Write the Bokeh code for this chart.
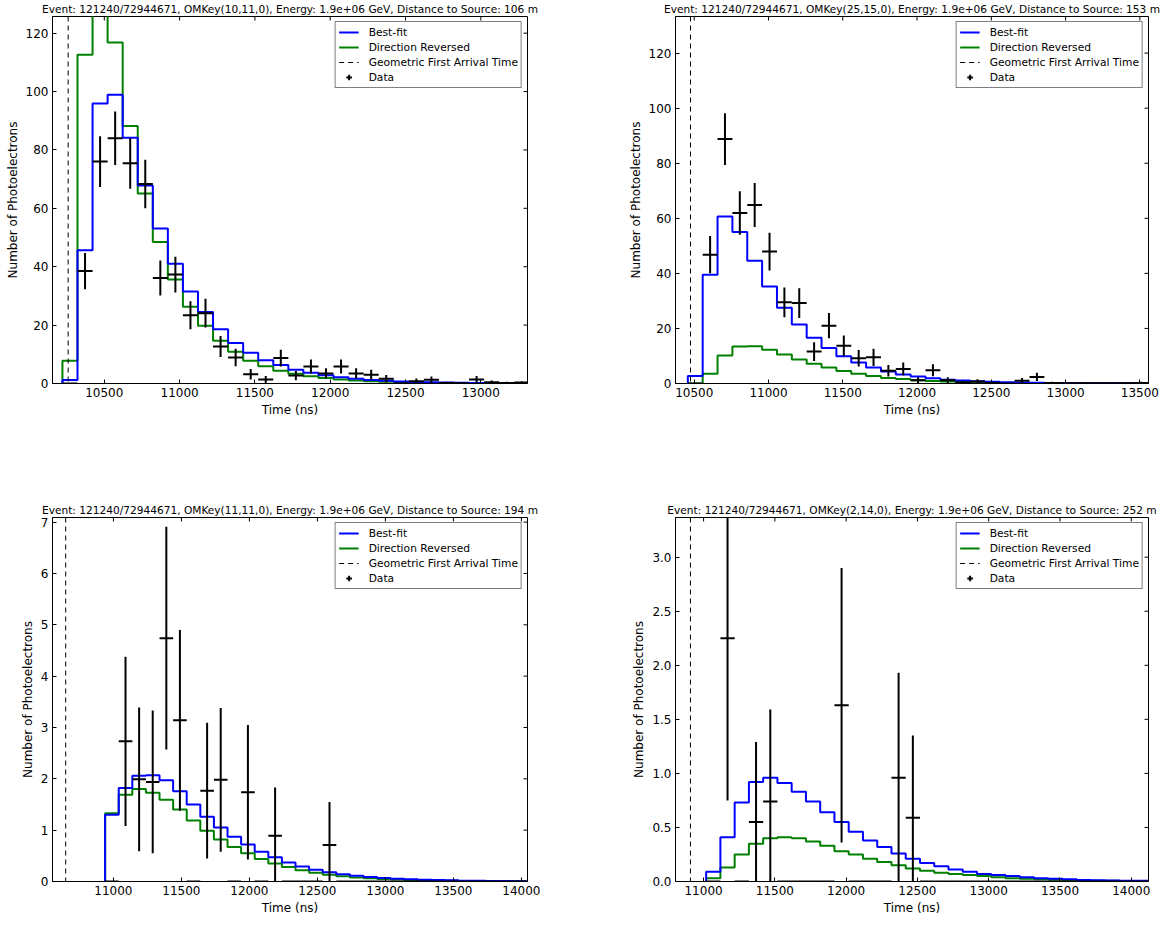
import numpy as np
from bokeh.plotting import figure
from bokeh.models import (Range1d, FixedTicker, Span, Legend, LegendItem,
                          PrintfTickFormatter)
from bokeh.layouts import column, row
from bokeh.embed import file_html
from bokeh.resources import INLINE

FONT = "DejaVu Sans"
BLUE = "#0000ff"
GREEN = "#008000"

# ---------------- data ----------------
titles = [
    "Event: 121240/72944671, OMKey(10,11,0), Energy: 1.9e+06 GeV, Distance to Source: 106 m",
    "Event: 121240/72944671, OMKey(25,15,0), Energy: 1.9e+06 GeV, Distance to Source: 153 m",
    "Event: 121240/72944671, OMKey(11,11,0), Energy: 1.9e+06 GeV, Distance to Source: 194 m",
    "Event: 121240/72944671, OMKey(2,14,0), Energy: 1.9e+06 GeV, Distance to Source: 252 m",
]
bin_width = 100.0
bin_start = [10222, 10457, 10939, 11018]
arrival_time = [10260, 10475, 10649, 10908]

best_fit_1 = [1.2, 45.6, 95.9, 98.9, 84.2, 67.8, 53.1, 41.0, 31.5, 24.5, 18.6, 13.9, 10.5, 8.0,
              6.3, 4.7, 3.7, 2.8, 2.1, 1.6, 1.2, 0.9, 0.7, 0.55, 0.42, 0.33, 0.26, 0.2, 0.15, 0.12, 0.09]
reversed_1 = [7.8, 112.6, 140.0, 116.8, 88.2, 65.1, 48.5, 35.6, 26.3, 19.8, 14.6, 10.9, 7.8, 5.9,
              4.4, 3.3, 2.5, 1.9, 1.4, 1.05, 0.8, 0.6, 0.45, 0.34, 0.26, 0.2, 0.15, 0.11, 0.08, 0.06, 0.05]
data_1 = [0, 38.5, 76.0, 84.0, 75.4, 68.3, 36.1, 37.3, 23.4, 24.1, 12.7, 8.9, 3.2, 1.4, 8.7, 2.7,
          5.8, 3.4, 5.8, 3.4, 3.0, 1.6, 0, 0.8, 1.3, 0.2, 0.1, 1.4, 0.4, 0.2, 0.3]
err_1 = [0, 6.2, 8.7, 9.2, 8.7, 8.3, 6.0, 6.1, 4.8, 4.9, 3.6, 3.0, 1.8, 1.2, 2.9, 1.6,
         2.4, 1.8, 2.4, 1.8, 1.7, 1.3, 0, 0.9, 1.1, 0.4, 0.3, 1.2, 0.6, 0.4, 0.5]

best_fit_2 = [2.7, 39.5, 60.7, 55.0, 44.6, 35.2, 27.5, 21.4, 16.6, 12.9, 9.9, 7.6, 5.8, 4.4, 3.3,
              2.5, 1.9, 1.4, 1.1, 0.8, 0.6, 0.45, 0.35, 0.27, 0.2, 0.15, 0.12, 0.09, 0.07, 0.05, 0.04]
reversed_2 = [0.0, 3.5, 10.2, 13.4, 13.5, 12.3, 10.5, 8.7, 7.2, 5.8, 4.5, 3.5, 2.7, 2.0, 1.6, 1.2,
              0.9, 0.7, 0.5, 0.4, 0.3, 0.22, 0.17, 0.13, 0.1, 0.07, 0.05, 0.04, 0.03, 0.02, 0.02]
data_2 = [0, 46.8, 88.8, 61.9, 64.8, 47.9, 29.5, 29.2, 11.6, 21.0, 13.7, 9.2, 9.5, 4.6, 5.3, 1.2,
          4.8, 1.2, 0.4, 0.7, 0.2, 0, 1.0, 2.4, 0.2, 0.1, 0.1, 0.1, 0.05, 0.1, 0.2]
err_2 = [0, 6.8, 9.4, 7.9, 8.0, 6.9, 5.4, 5.4, 3.4, 4.6, 3.7, 3.0, 3.1, 2.1, 2.3, 1.1,
         2.2, 1.1, 0.6, 0.8, 0.4, 0, 1.0, 1.5, 0.4, 0.3, 0.3, 0.3, 0.2, 0.3, 0.4]

best_fit_3 = [1.30, 1.82, 2.06, 2.07, 1.97, 1.76, 1.50, 1.26, 1.05, 0.87, 0.72, 0.58, 0.47, 0.37,
              0.29, 0.23, 0.18, 0.14, 0.11, 0.09, 0.07, 0.055, 0.045, 0.035, 0.028, 0.022, 0.017,
              0.013, 0.01, 0.008, 0.006]
reversed_3 = [1.33, 1.69, 1.80, 1.73, 1.59, 1.40, 1.19, 0.99, 0.82, 0.67, 0.55, 0.44, 0.35, 0.28,
              0.22, 0.17, 0.13, 0.10, 0.08, 0.065, 0.05, 0.04, 0.03, 0.025, 0.02, 0.015, 0.012,
              0.009, 0.007, 0.005, 0.004]
data_3 = [0, 2.73, 1.99, 1.94, 4.74, 3.14, 0, 1.77, 1.98, 0, 1.74, 0, 0.89, 0, 0, 0,
          0.71, 0, 0, 0, 0, 0, 0, 0, 0, 0, 0, 0, 0, 0, 0]
err_3 = [0, 1.65, 1.40, 1.39, 2.17, 1.76, 0, 1.32, 1.40, 0, 1.31, 0, 0.94, 0, 0, 0,
         0.84, 0, 0, 0, 0, 0, 0, 0, 0, 0, 0, 0, 0, 0, 0]

best_fit_4 = [0.09, 0.41, 0.73, 0.92, 0.96, 0.91, 0.83, 0.74, 0.64, 0.55, 0.46, 0.38, 0.32, 0.26,
              0.21, 0.17, 0.14, 0.11, 0.09, 0.07, 0.06, 0.05, 0.04, 0.03, 0.025, 0.02, 0.015,
              0.012, 0.01, 0.008, 0.006]
reversed_4 = [0.03, 0.13, 0.25, 0.35, 0.40, 0.41, 0.40, 0.37, 0.33, 0.28, 0.25, 0.21, 0.18, 0.15,
              0.12, 0.10, 0.08, 0.07, 0.06, 0.05, 0.04, 0.03, 0.025, 0.02, 0.016, 0.013, 0.01,
              0.008, 0.006, 0.005, 0.004]
data_4 = [0, 2.25, 0, 0.55, 0.74, 0, 0, 0, 0, 1.63, 0, 0, 0, 0.96, 0.59, 0,
          0, 0, 0, 0, 0, 0, 0, 0, 0, 0, 0, 0, 0, 0, 0]
err_4 = [0, 1.50, 0, 0.74, 0.85, 0, 0, 0, 0, 1.27, 0, 0, 0, 0.97, 0.76, 0,
         0, 0, 0, 0, 0, 0, 0, 0, 0, 0, 0, 0, 0, 0, 0]

x_ranges = [(10156, 13310), (10374, 13558), (10552, 14045), (10803, 14121)]
y_ranges = [(0, 125.7), (0, 133.3), (0, 7.09), (0, 3.367)]
x_ticks = [[10500, 11000, 11500, 12000, 12500, 13000],
           [10500, 11000, 11500, 12000, 12500, 13000, 13500],
           [11000, 11500, 12000, 12500, 13000, 13500, 14000],
           [11000, 11500, 12000, 12500, 13000, 13500, 14000]]
y_ticks = [[0, 20, 40, 60, 80, 100, 120],
           [0, 20, 40, 60, 80, 100, 120],
           [0, 1, 2, 3, 4, 5, 6, 7],
           [0, 0.5, 1.0, 1.5, 2.0, 2.5, 3.0]]

best_fits = [best_fit_1, best_fit_2, best_fit_3, best_fit_4]
reverseds = [reversed_1, reversed_2, reversed_3, reversed_4]
datas = [data_1, data_2, data_3, data_4]
errs = [err_1, err_2, err_3, err_4]


def style_axis(ax, ticks, fmt=None):
    ax.ticker = FixedTicker(ticks=ticks)
    ax.major_tick_in = 4
    ax.major_tick_out = 0
    ax.minor_tick_in = 0
    ax.minor_tick_out = 0
    ax.axis_line_color = "black"
    ax.major_tick_line_color = "black"
    ax.major_label_text_font = FONT
    ax.major_label_text_color = "black"
    ax.major_label_text_font_size = "12px"
    ax.major_label_standoff = 4
    ax.axis_label_standoff = 3
    ax.axis_label_text_font = FONT
    ax.axis_label_text_font_size = "12px"
    ax.axis_label_text_font_style = "normal"
    ax.axis_label_text_color = "black"
    if fmt is not None:
        ax.formatter = fmt


def step_xy(start, vals):
    n = len(vals)
    edges = start + bin_width * np.arange(n + 1)
    sx = np.concatenate([[edges[0]], edges])
    sy = np.concatenate([[0.0], np.asarray(vals, float), [vals[-1]]])
    return sx, sy, edges


def make_panel(i, width, height, mb_left, mb_right, mb_top, mb_bottom):
    x0r, x1r = x_ranges[i]
    y0r, y1r = y_ranges[i]
    p = figure(width=width, height=height,
               x_range=Range1d(x0r, x1r), y_range=Range1d(y0r, y1r),
               output_backend="svg", toolbar_location=None,
               min_border_left=mb_left, min_border_right=mb_right,
               min_border_top=mb_top, min_border_bottom=mb_bottom,
               background_fill_color="white", border_fill_color="white")
    p.xgrid.visible = False
    p.ygrid.visible = False
    p.outline_line_color = "black"
    p.outline_line_width = 1

    p.title.text = titles[i]
    p.title.text_font = FONT
    p.title.text_font_size = "10.6px"
    p.title.text_font_style = "normal"
    p.title.text_color = "black"
    p.title.align = "center"
    p.title.vertical_align = "top"
    p.title.standoff = 0

    fmt = PrintfTickFormatter(format="%.1f") if i == 3 else None
    style_axis(p.xaxis[0], x_ticks[i])
    style_axis(p.yaxis[0], y_ticks[i], fmt=fmt)
    p.xaxis[0].axis_label = "Time (ns)"
    p.yaxis[0].axis_label = "Number of Photoelectrons"

    # inward ticks on top and right edges (half of each dash is clipped by the frame)
    xt = np.asarray(x_ticks[i], float)
    yt = np.asarray(y_ticks[i], float)
    p.scatter(x=xt, y=np.full(len(xt), y1r), marker="dash", angle=np.pi / 2, size=8,
              line_color="black", line_width=1)
    p.scatter(x=np.full(len(yt), x1r), y=yt, marker="dash", angle=0, size=8,
              line_color="black", line_width=1)

    sx, sy, edges = step_xy(bin_start[i], best_fits[i])
    sx2, sy2, _ = step_xy(bin_start[i], reverseds[i])
    r_rev = p.step(sx2, sy2, mode="after", line_color=GREEN, line_width=2)
    r_best = p.step(sx, sy, mode="after", line_color=BLUE, line_width=2)

    span = Span(location=arrival_time[i], dimension="height", line_color="black",
                line_width=1, line_dash="5 4")
    p.add_layout(span)

    centers = edges[:-1] + bin_width / 2
    y = np.asarray(datas[i], float)
    e = np.asarray(errs[i], float)
    p.segment(x0=centers, y0=y - e, x1=centers, y1=y + e, line_color="black", line_width=2)
    p.segment(x0=centers - bin_width / 2, y0=y, x1=centers + bin_width / 2, y1=y,
              line_color="black", line_width=2)

    r_dash = p.line(x=[np.nan, np.nan], y=[np.nan, np.nan], line_color="black",
                    line_width=1, line_dash="5 4")
    r_data = p.scatter(x=[np.nan], y=[np.nan], marker="cross", size=12,
                       line_color="black", line_width=2)

    legend = Legend(items=[
        LegendItem(label="Best-fit", renderers=[r_best]),
        LegendItem(label="Direction Reversed", renderers=[r_rev]),
        LegendItem(label="Geometric First Arrival Time", renderers=[r_dash]),
        LegendItem(label="Data", renderers=[r_data]),
    ], location="top_right")
    legend.border_line_color = "black"
    legend.border_line_width = 1
    legend.background_fill_color = "white"
    legend.background_fill_alpha = 1.0
    legend.label_text_font = FONT
    legend.label_text_font_size = "10.7px"
    legend.label_text_color = "black"
    legend.padding = 3
    legend.spacing = 1
    legend.margin = 5
    legend.glyph_width = 20
    legend.glyph_height = 14
    legend.label_height = 14
    legend.label_standoff = 10
    p.add_layout(legend)
    return p


p1 = make_panel(0, 584, 501, 52, 57, 16, 118)
p2 = make_panel(1, 580, 501, 91, 16, 16, 118)
p3 = make_panel(2, 584, 416, 52, 57, 16, 35)
p4 = make_panel(3, 580, 416, 91, 16, 16, 35)

layout = column(row(p1, p2), row(p3, p4))

with open("out.html", "w") as f:
    f.write(file_html(layout, INLINE))
